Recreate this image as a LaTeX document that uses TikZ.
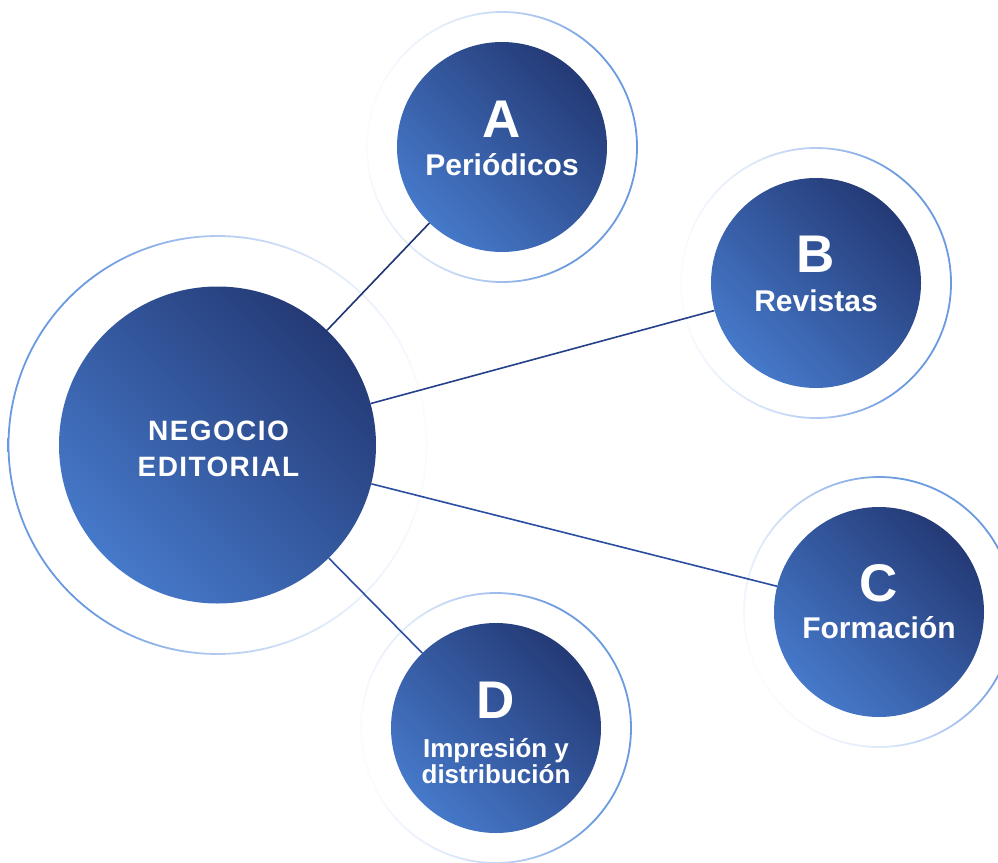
\documentclass[tikz,border=0pt]{standalone}
\usepackage{fontspec}
\setmainfont{Liberation Sans}
\newfontfamily\spacedfont[LetterSpace=5]{Liberation Sans}
\definecolor{cLight}{HTML}{4679CA}
\definecolor{cDark}{HTML}{243A76}
\definecolor{ringBlue}{HTML}{6A9AE0}
\definecolor{ringMid}{HTML}{B3CBF1}
\definecolor{ringFaint}{HTML}{FAFCFF}
\definecolor{lineA}{HTML}{1E3472}
\definecolor{lineB}{HTML}{25408A}
\definecolor{lineC}{HTML}{2B4DA0}
\definecolor{lineD}{HTML}{2C4FA2}
\pgfdeclarehorizontalshading{ringfade}{100bp}{color(0bp)=(ringFaint); color(25bp)=(ringFaint); color(38bp)=(ringFaint!60!ringMid); color(50bp)=(ringMid); color(65bp)=(ringBlue); color(100bp)=(ringBlue)}
\tikzset{
  hub/.style={circle, inner sep=0pt, minimum size=317pt, left color=cLight, right color=cDark, shading angle=135},
  topic/.style={circle, inner sep=0pt, minimum size=210pt, left color=cLight, right color=cDark, shading angle=135},
  ring/.style={even odd rule, shading=ringfade, shading angle=#1},
  conn/.style={line width=1.6pt},
  bigletter/.style={text=white, font=\fontsize{53}{53}\selectfont\bfseries, anchor=base, inner sep=0pt},
  toplabel/.style={text=white, font=\fontsize{30}{30}\selectfont\bfseries, anchor=base, inner sep=0pt},
  smalllabel/.style={text=white, font=\fontsize{26}{26}\selectfont\bfseries, anchor=base, inner sep=0pt},
  hublabel/.style={text=white, font=\spacedfont\fontsize{28}{28}\selectfont\bfseries, anchor=base, inner sep=0pt}
}
\begin{document}
\begin{tikzpicture}[x=1pt, y=-1pt]
\useasboundingbox (0,0) rectangle (998,862);
\clip (0,0) rectangle (998,862);
% rings
\shade[ring=180] (217.5,445) circle (208.1) (217.5,445) circle (209.9);
\shade[ring=-10] (502,147) circle (134.1) (502,147) circle (135.9);
\shade[ring=0] (816,283) circle (134.1) (816,283) circle (135.9);
\shade[ring=30] (879,612) circle (134.1) (879,612) circle (135.9);
\shade[ring=10] (496,728) circle (134.1) (496,728) circle (135.9);
% circles
\node[hub] (hub) at (217.5,445) {};
\node[topic] (A) at (502,147) {};
\node[topic] (B) at (816,283) {};
\node[topic] (C) at (879,612) {};
\node[topic] (D) at (496,728) {};
% connectors
\draw[conn, lineA] (hub) -- (A);
\draw[conn, lineB] (hub) -- (B);
\draw[conn, lineC] (hub) -- (C);
\draw[conn, lineD] (hub) -- (D);
% texts
\node[hublabel] (hub1) at (218.5,440.7) {NEGOCIO};
\node[hublabel] (hub2) at (218.5,476) {EDITORIAL};
\node[bigletter] (Aletter) at (502,137) {A};
\node[toplabel] (Alabel) at (502,175) {Periódicos};
\node[bigletter] (Bletter) at (816,272) {B};
\node[toplabel] (Blabel) at (816,311) {Revistas};
\node[bigletter] (Cletter) at (879,601) {C};
\node[toplabel] (Clabel) at (879,638) {Formación};
\node[bigletter] (Dletter) at (496,718) {D};
\node[smalllabel] (Dlabel1) at (496,757) {Impresión y};
\node[smalllabel] (Dlabel2) at (496,783) {distribución};
\end{tikzpicture}
\end{document}
